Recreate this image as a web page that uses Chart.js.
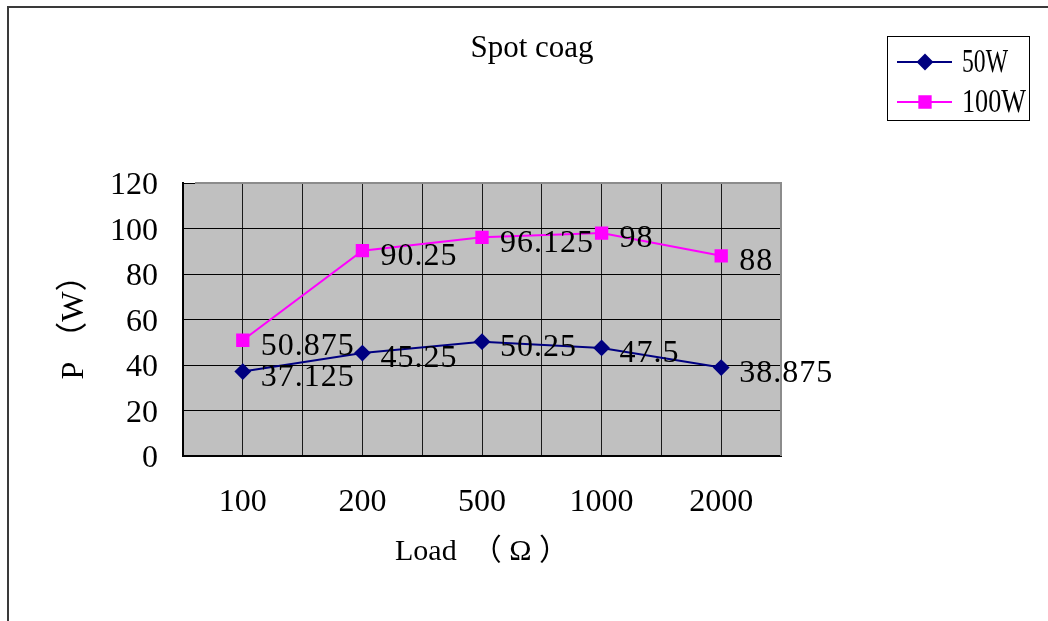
<!DOCTYPE html>
<html>
<head>
<meta charset="utf-8">
<title>Spot coag</title>
<script src="https://cdn.jsdelivr.net/npm/chart.js@4.4.1/dist/chart.umd.min.js"></script>
<style>
  html, body { margin: 0; padding: 0; background: #fff; }
  #wrap { width: 1048px; height: 621px; position: relative; }
</style>
</head>
<body>
<div id="wrap"><canvas id="spotChart" width="1048" height="621"></canvas></div>
<script>
// load values (ohm) and measured output power (W)
const loads = ["100", "200", "500", "1000", "2000"];
const power50W = [37.125, 45.25, 50.25, 47.5, 38.875];
const power100W = [50.875, 90.25, 96.125, 98, 88];
const powerTicks = [0, 20, 40, 60, 80, 100, 120];

const SERIF = "'Liberation Serif', 'Noto Sans CJK SC', serif";
Chart.defaults.font.family = SERIF;
Chart.defaults.color = "#000";

// background, frame, plot border, value labels, title and legend box
const chartDecor = {
  id: "chartDecor",
  beforeDraw(chart) {
    const { ctx, chartArea: a } = chart;
    ctx.save();
    ctx.fillStyle = "#fff";
    ctx.fillRect(0, 0, chart.width, chart.height);
    ctx.fillStyle = "#c0c0c0";
    ctx.fillRect(a.left, a.top, a.right - a.left, a.bottom - a.top);
    // outer frame (left and top edges)
    ctx.strokeStyle = "#3a3a3a";
    ctx.lineWidth = 2;
    ctx.beginPath();
    ctx.moveTo(8, chart.height);
    ctx.lineTo(8, 7);
    ctx.lineTo(chart.width, 7);
    ctx.stroke();
    ctx.restore();
  },
  beforeDatasetsDraw(chart) {
    const { ctx, chartArea: a } = chart;
    ctx.save();
    ctx.strokeStyle = "#8c8c8c";
    ctx.lineWidth = 2;
    ctx.beginPath();
    ctx.moveTo(a.left + 12, a.top);
    ctx.lineTo(a.right, a.top);
    ctx.lineTo(a.right, a.bottom);
    ctx.stroke();
    ctx.restore();
  },
  afterDatasetsDraw(chart) {
    const { ctx } = chart;
    ctx.save();
    ctx.font = "32px " + SERIF;
    ctx.fillStyle = "#000";
    ctx.textAlign = "left";
    ctx.textBaseline = "middle";
    ctx.letterSpacing = "1px";
    chart.data.datasets.forEach((ds, i) => {
      chart.getDatasetMeta(i).data.forEach((pt, j) => {
        ctx.fillText(String(ds.data[j]), pt.x + 18, pt.y + 6);
      });
    });
    ctx.restore();
  },
  afterDraw(chart) {
    const { ctx } = chart;
    ctx.save();
    ctx.fillStyle = "#000";
    ctx.textBaseline = "middle";
    ctx.font = "31px " + SERIF;
    ctx.textAlign = "center";
    ctx.fillText("Spot coag", 532, 49);

    // legend
    ctx.strokeStyle = "#000";
    ctx.lineWidth = 1;
    ctx.strokeRect(887.5, 36.5, 142, 84);
    chart.data.datasets.forEach((ds, i) => {
      const y = 62 + i * 40;
      ctx.strokeStyle = ds.borderColor;
      ctx.lineWidth = ds.borderWidth;
      ctx.beginPath();
      ctx.moveTo(897, y);
      ctx.lineTo(952, y);
      ctx.stroke();
      ctx.fillStyle = ds.pointBackgroundColor;
      ctx.strokeStyle = ds.pointBorderColor;
      Chart.helpers.drawPoint(ctx, {
        pointStyle: ds.pointStyle,
        radius: ds.pointRadius,
        rotation: 0,
        borderWidth: 1
      }, 925, y);
      ctx.fillStyle = "#000";
      ctx.textAlign = "left";
      ctx.font = "33px " + SERIF;
      ctx.fillText(ds.label, 962, y + 1, i === 0 ? 46 : 64);
    });
    ctx.restore();
  }
};

new Chart(document.getElementById("spotChart"), {
  type: "line",
  data: {
    labels: loads,
    datasets: [
      {
        label: "50W",
        data: power50W,
        borderColor: "#000080",
        backgroundColor: "#000080",
        pointBackgroundColor: "#000080",
        pointBorderColor: "#000080",
        borderWidth: 2,
        pointStyle: "rectRot",
        pointRadius: 7,
        tension: 0
      },
      {
        label: "100W",
        data: power100W,
        borderColor: "#ff00ff",
        backgroundColor: "#ff00ff",
        pointBackgroundColor: "#ff00ff",
        pointBorderColor: "#ff00ff",
        borderWidth: 2,
        pointStyle: "rect",
        pointRadius: 8,
        tension: 0
      }
    ]
  },
  options: {
    responsive: false,
    animation: false,
    devicePixelRatio: 1,
    layout: { padding: { left: 0, top: 183, right: 267, bottom: 0 } },
    plugins: {
      legend: { display: false },
      title: { display: false },
      tooltip: { enabled: false }
    },
    scales: {
      x: {
        type: "category",
        offset: true,
        grid: { display: true, offset: false, color: "#1a1a1a", lineWidth: 1, drawTicks: false },
        border: { display: true, color: "#000", width: 2 },
        ticks: { padding: 27, font: { size: 32 }, color: "#000", maxRotation: 0 },
        title: { display: true, text: "Load  （ Ω ）", font: { size: 30 }, color: "#000", padding: { top: 0, bottom: 51 } },
        afterFit: (s) => { s.height = 165; }
      },
      x2: {
        type: "category",
        labels: loads,
        position: "bottom",
        offset: true,
        grid: { display: true, offset: true, color: "#1a1a1a", lineWidth: 1, drawTicks: false },
        border: { display: false },
        ticks: { display: false },
        afterFit: (s) => { s.height = 0; }
      },
      y: {
        min: 0,
        max: 120,
        afterBuildTicks: (s) => { s.ticks = powerTicks.map((v) => ({ value: v })); },
        grid: { color: "#000", lineWidth: 1, drawTicks: false },
        border: { display: true, color: "#000", width: 2 },
        ticks: { padding: 25, labelOffset: 3, font: { size: 32 }, color: "#000" },
        title: { display: true, text: "P （W）", font: { size: 32 }, color: "#000", padding: { top: 55, bottom: 0 } },
        afterFit: (s) => { s.width = 183; }
      }
    }
  },
  plugins: [chartDecor]
});
</script>
</body>
</html>
